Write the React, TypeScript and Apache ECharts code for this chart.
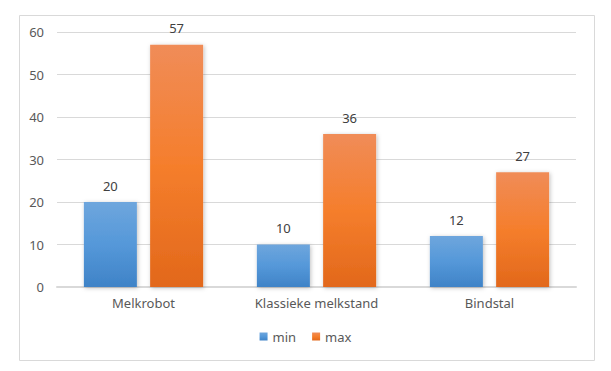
import React, { useEffect, useRef } from "react";
import * as echarts from "echarts";

const categories = ["Melkrobot", "Klassieke melkstand", "Bindstal"];
const minValues = [20, 10, 12];
const maxValues = [57, 36, 27];
const seriesNames = ["min", "max"];

export default function App() {
  const ref = useRef<HTMLDivElement>(null);
  useEffect(() => {
    if (!ref.current) return;
    const chart = echarts.init(ref.current, undefined, { renderer: "svg" });
    const font = "Noto Sans";
    const blue = new echarts.graphic.LinearGradient(0, 0, 0, 1, [
      { offset: 0, color: "#6ea6dd" },
      { offset: 0.5, color: "#5598d9" },
      { offset: 1, color: "#3f83c7" },
    ]);
    const orange = new echarts.graphic.LinearGradient(0, 0, 0, 1, [
      { offset: 0, color: "#f08c58" },
      { offset: 0.5, color: "#f57e2c" },
      { offset: 1, color: "#e2681b" },
    ]);
    const label = {
      show: true,
      position: "top",
      distance: 10,
      color: "#404040",
      fontFamily: font,
      fontSize: 13,
    };
    const shadow = {
      shadowColor: "rgba(0,0,0,0.25)",
      shadowBlur: 4,
      shadowOffsetX: 1,
      shadowOffsetY: 1,
    };
    chart.setOption({
      animation: false,
      backgroundColor: "#ffffff",
      graphic: [
        {
          type: "rect",
          shape: { x: 19.5, y: 15.5, width: 575, height: 345 },
          style: { fill: "none", stroke: "#d9d9d9", lineWidth: 1 },
          z: -1,
        },
      ],
      grid: { left: 57, right: 35, top: 32, bottom: 84, containLabel: false },
      legend: {
        data: seriesNames,
        bottom: 23,
        left: "center",
        itemWidth: 8,
        itemHeight: 8,
        itemGap: 16,
        icon: "rect",
        textStyle: { color: "#595959", fontFamily: font, fontSize: 13 },
      },
      xAxis: {
        type: "category",
        data: categories,
        axisLine: { lineStyle: { color: "#d9d9d9", width: 2 } },
        axisTick: { show: false },
        axisLabel: { color: "#595959", fontFamily: font, fontSize: 13, margin: 9 },
      },
      yAxis: {
        type: "value",
        min: 0,
        max: 60,
        interval: 10,
        axisLine: { show: false },
        axisTick: { show: false },
        splitLine: { lineStyle: { color: "#d9d9d9", width: 1 } },
        axisLabel: { color: "#595959", fontFamily: font, fontSize: 13, margin: 13 },
      },
      series: [
        {
          name: seriesNames[0],
          type: "bar",
          data: minValues,
          barWidth: 53,
          barGap: "25%",
          itemStyle: { color: blue, ...shadow },
          label,
        },
        {
          name: seriesNames[1],
          type: "bar",
          data: maxValues,
          barWidth: 53,
          barGap: "25%",
          itemStyle: { color: orange, ...shadow },
          label,
        },
      ],
    });
    return () => chart.dispose();
  }, []);
  return (
    <div
      ref={ref}
      style={{ position: "fixed", left: 0, top: 0, width: 611, height: 371 }}
    />
  );
}
